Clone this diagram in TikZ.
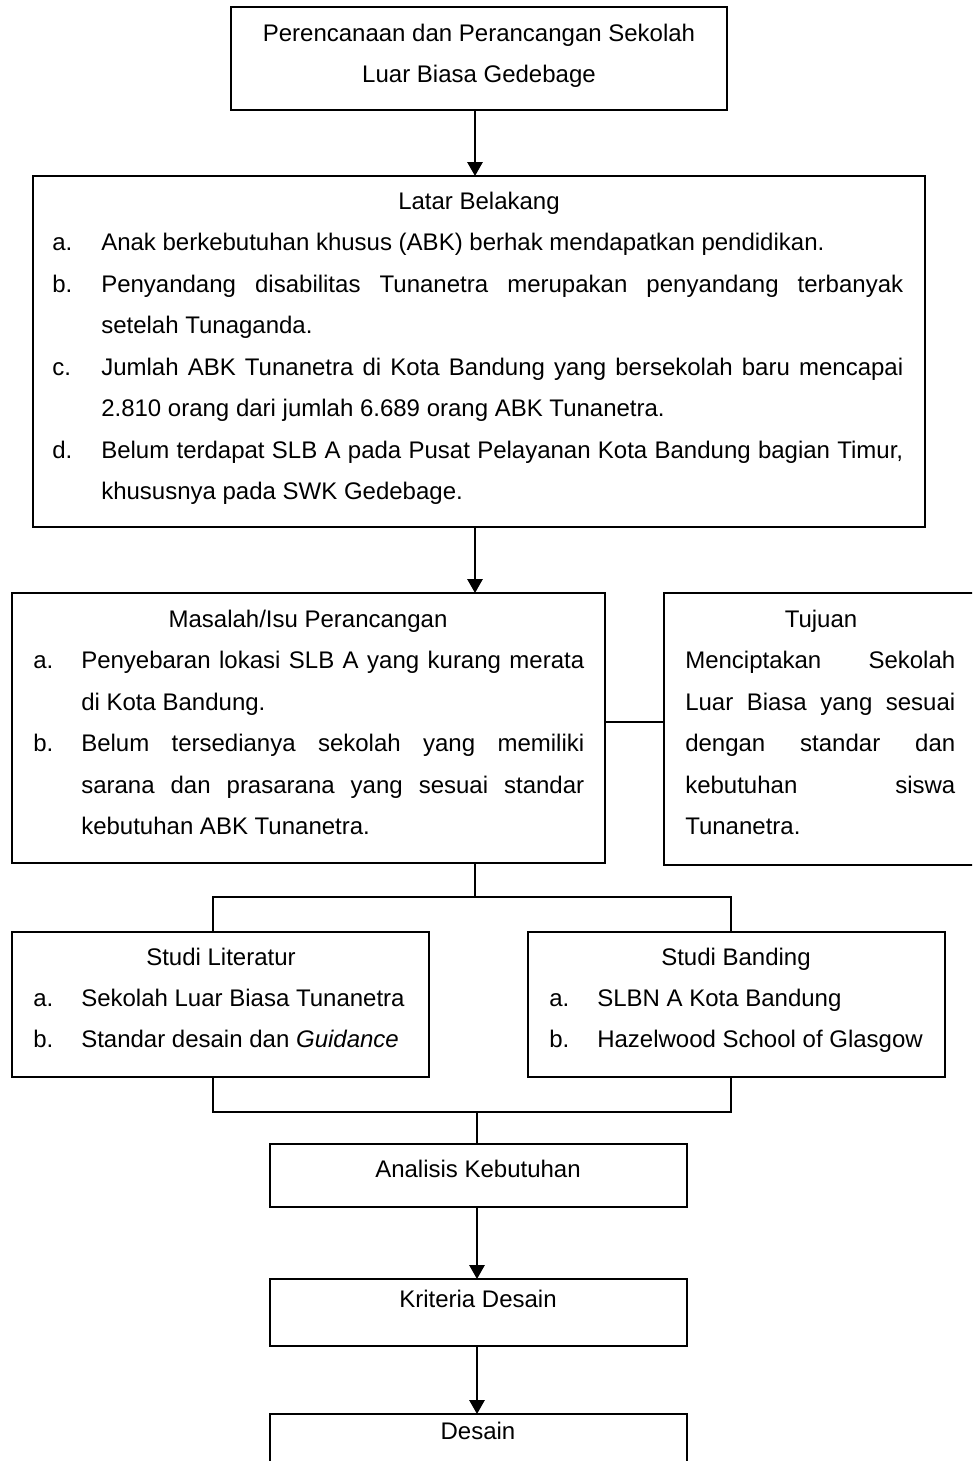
\documentclass[tikz,border=0pt]{standalone}
\usepackage{fontspec}
\setmainfont{Liberation Sans}
\usetikzlibrary{arrows.meta}
\newdimen\px
\px=0.75pt
\tikzset{
  box/.style={draw, line width=1.5pt, inner sep=0pt, outer sep=0pt, anchor=north west},
  ln/.style={line width=1.5pt},
  arr/.style={line width=1.5pt, -{Triangle[width=11.5pt,length=10.5pt]}},
  tl/.style={inner sep=0pt, anchor=base west},
  tc/.style={inner sep=0pt, anchor=base},
}
\newcommand{\jL}[1]{\makebox[802\px][s]{#1}}
\newcommand{\jM}[1]{\makebox[503\px][s]{#1}}
\newcommand{\jT}[1]{\makebox[270\px][s]{#1}}
\begin{document}
\begin{tikzpicture}[x=0.75pt, y=-0.75pt, font=\fontsize{18pt}{21.6pt}\selectfont]
\useasboundingbox (0,0) rectangle (972,1461);
\clip (0,0) rectangle (972,1461);
% boxes
\node[box, minimum width=496\px, minimum height=103\px] (top) at (231,7) {};
\node[box, minimum width=892\px, minimum height=351\px] (latar) at (33,176) {};
\node[box, minimum width=593\px, minimum height=270\px] (masalah) at (12,593) {};
\node[box, minimum width=316\px, minimum height=272\px] (tujuan) at (664,593) {};
\node[box, minimum width=417\px, minimum height=145\px] (lit) at (12,932) {};
\node[box, minimum width=417\px, minimum height=145\px] (band) at (528,932) {};
\node[box, minimum width=417\px, minimum height=63\px] (ana) at (270,1144) {};
\node[box, minimum width=417\px, minimum height=67\px] (kri) at (270,1279) {};
\node[box, minimum width=417\px, minimum height=80\px] (des) at (270,1414) {};
% texts: top
\node[tc] (t01) at (479,41) {Perencanaan dan Perancangan Sekolah};
\node[tc] (t02) at (479,82) {Luar Biasa Gedebage};
% latar
\node[tc] (t03) at (479,209) {Latar Belakang};
\node[tl] (t04) at (52,250) {a.};
\node[tl] (t05) at (101,250) {Anak berkebutuhan khusus (ABK) berhak mendapatkan pendidikan.};
\node[tl] (t06) at (52,292) {b.};
\node[tl] (t07) at (101,292) {\jL{Penyandang disabilitas Tunanetra merupakan penyandang terbanyak}};
\node[tl] (t08) at (101,333) {setelah Tunaganda.};
\node[tl] (t09) at (52,375) {c.};
\node[tl] (t10) at (101,375) {\jL{Jumlah ABK Tunanetra di Kota Bandung yang bersekolah baru mencapai}};
\node[tl] (t11) at (101,416) {2.810 orang dari jumlah 6.689 orang ABK Tunanetra.};
\node[tl] (t12) at (52,458) {d.};
\node[tl] (t13) at (101,458) {\jL{Belum terdapat SLB A pada Pusat Pelayanan Kota Bandung bagian Timur,}};
\node[tl] (t14) at (101,499) {khususnya pada SWK Gedebage.};
% masalah
\node[tc] (t15) at (308,627) {Masalah/Isu Perancangan};
\node[tl] (t16) at (33,668) {a.};
\node[tl] (t17) at (81,668) {\jM{Penyebaran lokasi SLB A yang kurang merata}};
\node[tl] (t18) at (81,710) {di Kota Bandung.};
\node[tl] (t19) at (33,751) {b.};
\node[tl] (t20) at (81,751) {\jM{Belum tersedianya sekolah yang memiliki}};
\node[tl] (t21) at (81,793) {\jM{sarana dan prasarana yang sesuai standar}};
\node[tl] (t22) at (81,834) {kebutuhan ABK Tunanetra.};
% tujuan
\node[tc] (t23) at (821,627) {Tujuan};
\node[tl] (t24) at (685,668) {\jT{Menciptakan Sekolah}};
\node[tl] (t25) at (685,710) {\jT{Luar Biasa yang sesuai}};
\node[tl] (t26) at (685,751) {\jT{dengan standar dan}};
\node[tl] (t27) at (685,793) {\jT{kebutuhan siswa}};
\node[tl] (t28) at (685,834) {Tunanetra.};
% studi literatur
\node[tc] (t29) at (221,965) {Studi Literatur};
\node[tl] (t30) at (33,1006) {a.};
\node[tl] (t31) at (81,1006) {Sekolah Luar Biasa Tunanetra};
\node[tl] (t32) at (33,1047) {b.};
\node[tl] (t33) at (81,1047) {Standar desain dan \textit{Guidance}};
% studi banding
\node[tc] (t34) at (736,965) {Studi Banding};
\node[tl] (t35) at (549,1006) {a.};
\node[tl] (t36) at (597,1006) {SLBN A Kota Bandung};
\node[tl] (t37) at (549,1047) {b.};
\node[tl] (t38) at (597,1047) {Hazelwood School of Glasgow};
% bottom boxes
\node[tc] (t39) at (478,1177) {Analisis Kebutuhan};
\node[tc] (t40) at (478,1307) {Kriteria Desain};
\node[tc] (t41) at (478,1439) {Desain};
% connectors
\coordinate (j0) at (475,0);
\draw[arr] (j0 |- top.south) -- (j0 |- latar.north);
\draw[arr] (j0 |- latar.south) -- (j0 |- masalah.north);
\coordinate (jt) at (640,722);
\draw[ln] (jt -| masalah.east) -- (jt -| tujuan.west);
\coordinate (j1) at (475,897);
\coordinate (jl) at (213,897);
\coordinate (jr) at (731,897);
\draw[ln] (j1 |- masalah.south) -- (j1);
\draw[ln] (jl |- lit.north) -- (jl) -- (jr) -- (jr |- band.north);
\coordinate (j2) at (477,1112);
\coordinate (kl) at (213,1112);
\coordinate (kr) at (731,1112);
\draw[ln] (kl |- lit.south) -- (kl) -- (kr) -- (kr |- band.south);
\draw[ln] (j2) -- (j2 |- ana.north);
\draw[arr] (j2 |- ana.south) -- (j2 |- kri.north);
\draw[arr] (j2 |- kri.south) -- (j2 |- des.north);
\end{tikzpicture}
\end{document}
